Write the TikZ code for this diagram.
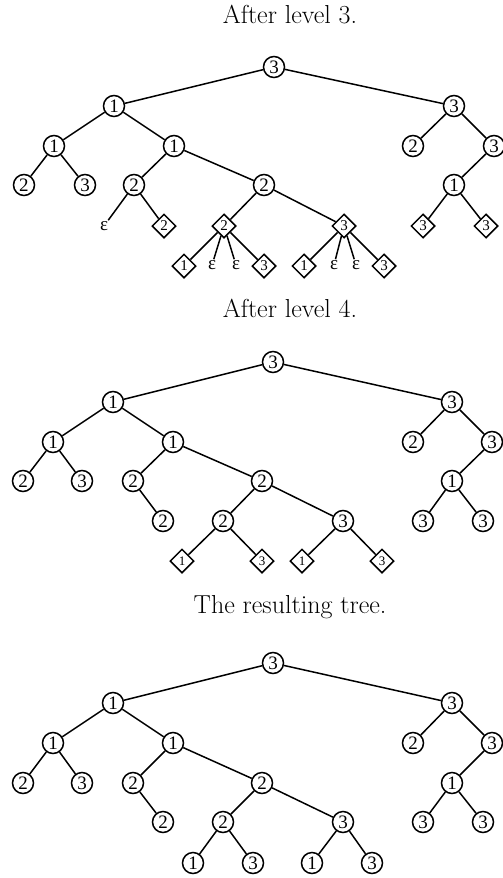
\documentclass[tikz,border=0pt]{standalone}
\usepackage{fontspec}
\newfontfamily\nodefont{Liberation Serif}
\usetikzlibrary{shapes.geometric}
\tikzset{
  cn/.style={circle,draw,line width=1.5pt,minimum size=21pt,inner sep=0pt,font=\nodefont\fontsize{19}{19}\selectfont},
  dn/.style={diamond,draw,line width=1.5pt,minimum size=24pt,inner sep=0pt,font=\nodefont\fontsize{15}{15}\selectfont},
  dns/.style={dn,font=\nodefont\fontsize{13}{13}\selectfont},
  en/.style={inner sep=1pt,font=\nodefont\fontsize{19}{19}\selectfont},
  ttl/.style={font=\fontsize{26}{30}\selectfont},
  ed/.style={line width=1.5pt}
}
\begin{document}
\begin{tikzpicture}[x=1pt,y=-1pt]
\useasboundingbox (0,0) rectangle (503,878);
% ---------- Tree 1 ----------
\node[ttl] (t1) at (290,15) {After level 3.};
\node[cn] (a0) at (274,67) {3};
\node[cn] (a1) at (114,106) {1};
\node[cn] (a2) at (454,106) {3};
\node[cn] (a11) at (54,146) {1};
\node[cn] (a12) at (174,146) {1};
\node[cn] (a21) at (413,146) {2};
\node[cn] (a22) at (494,146) {3};
\node[cn] (a111) at (24,185) {2};
\node[cn] (a112) at (85,185) {3};
\node[cn] (a121) at (134,185) {2};
\node[cn] (a122) at (264,185) {2};
\node[cn] (a221) at (454,185) {1};
\node[en] (a1211) at (104,226) {ε};
\node[dn] (a1212) at (164,226) {2};
\node[dn] (a1221) at (224,226) {2};
\node[dn] (a1222) at (344,226) {3};
\node[dn] (a2211) at (423,226) {3};
\node[dn] (a2212) at (486,226) {3};
\node[dn] (a12211) at (184,266) {1};
\node[en] (a12212) at (212,265) {ε};
\node[en] (a12213) at (236,265) {ε};
\node[dn] (a12214) at (264,266) {3};
\node[dn] (a12221) at (304,266) {1};
\node[en] (a12222) at (334,265) {ε};
\node[en] (a12223) at (356,265) {ε};
\node[dn] (a12224) at (384,266) {3};
\draw[ed] (a0)--(a1) (a0)--(a2)
  (a1)--(a11) (a1)--(a12) (a2)--(a21) (a2)--(a22)
  (a11)--(a111) (a11)--(a112) (a12)--(a121) (a12)--(a122) (a22)--(a221)
  (a121)--(a1211) (a121)--(a1212) (a122)--(a1221) (a122)--(a1222)
  (a221)--(a2211) (a221)--(a2212)
  (a1221)--(a12211) (a1221)--(a12212) (a1221)--(a12213) (a1221)--(a12214)
  (a1222)--(a12221) (a1222)--(a12222) (a1222)--(a12223) (a1222)--(a12224);
% ---------- Tree 2 ----------
\node[ttl] (t2) at (290,308) {After level 4.};
\node[cn] (b0) at (273,362) {3};
\node[cn] (b1) at (113,402) {1};
\node[cn] (b2) at (452,402) {3};
\node[cn] (b11) at (53,442) {1};
\node[cn] (b12) at (173,442) {1};
\node[cn] (b21) at (413,442) {2};
\node[cn] (b22) at (492,442) {3};
\node[cn] (b111) at (23,481) {2};
\node[cn] (b112) at (82,481) {3};
\node[cn] (b121) at (133,481) {2};
\node[cn] (b122) at (262,481) {2};
\node[cn] (b221) at (452,481) {1};
\node[cn] (b1212) at (163,521) {2};
\node[cn] (b1221) at (223,521) {2};
\node[cn] (b1222) at (343,521) {3};
\node[cn] (b2211) at (423,521) {3};
\node[cn] (b2212) at (483,521) {3};
\node[dns] (b12211) at (182,561) {1};
\node[dns] (b12212) at (262,561) {3};
\node[dns] (b12221) at (302,561) {1};
\node[dns] (b12222) at (382,561) {3};
\draw[ed] (b0)--(b1) (b0)--(b2)
  (b1)--(b11) (b1)--(b12) (b2)--(b21) (b2)--(b22)
  (b11)--(b111) (b11)--(b112) (b12)--(b121) (b12)--(b122) (b22)--(b221)
  (b121)--(b1212) (b122)--(b1221) (b122)--(b1222)
  (b221)--(b2211) (b221)--(b2212)
  (b1221)--(b12211) (b1221)--(b12212) (b1222)--(b12221) (b1222)--(b12222);
% ---------- Tree 3 ----------
\node[ttl] (t3) at (290,607) {The resulting tree.};
\node[cn] (c0) at (273,663) {3};
\node[cn] (c1) at (113,703) {1};
\node[cn] (c2) at (452,703) {3};
\node[cn] (c11) at (53,743) {1};
\node[cn] (c12) at (173,743) {1};
\node[cn] (c21) at (413,743) {2};
\node[cn] (c22) at (492,743) {3};
\node[cn] (c111) at (23,783) {2};
\node[cn] (c112) at (82,783) {3};
\node[cn] (c121) at (133,783) {2};
\node[cn] (c122) at (262,783) {2};
\node[cn] (c221) at (452,783) {1};
\node[cn] (c1212) at (163,822) {2};
\node[cn] (c1221) at (223,822) {2};
\node[cn] (c1222) at (343,822) {3};
\node[cn] (c2211) at (423,822) {3};
\node[cn] (c2212) at (483,822) {3};
\node[cn] (c12211) at (193,863) {1};
\node[cn] (c12212) at (253,863) {3};
\node[cn] (c12221) at (312,863) {1};
\node[cn] (c12222) at (372,863) {3};
\draw[ed] (c0)--(c1) (c0)--(c2)
  (c1)--(c11) (c1)--(c12) (c2)--(c21) (c2)--(c22)
  (c11)--(c111) (c11)--(c112) (c12)--(c121) (c12)--(c122) (c22)--(c221)
  (c121)--(c1212) (c122)--(c1221) (c122)--(c1222)
  (c221)--(c2211) (c221)--(c2212)
  (c1221)--(c12211) (c1221)--(c12212) (c1222)--(c12221) (c1222)--(c12222);
\end{tikzpicture}
\end{document}
